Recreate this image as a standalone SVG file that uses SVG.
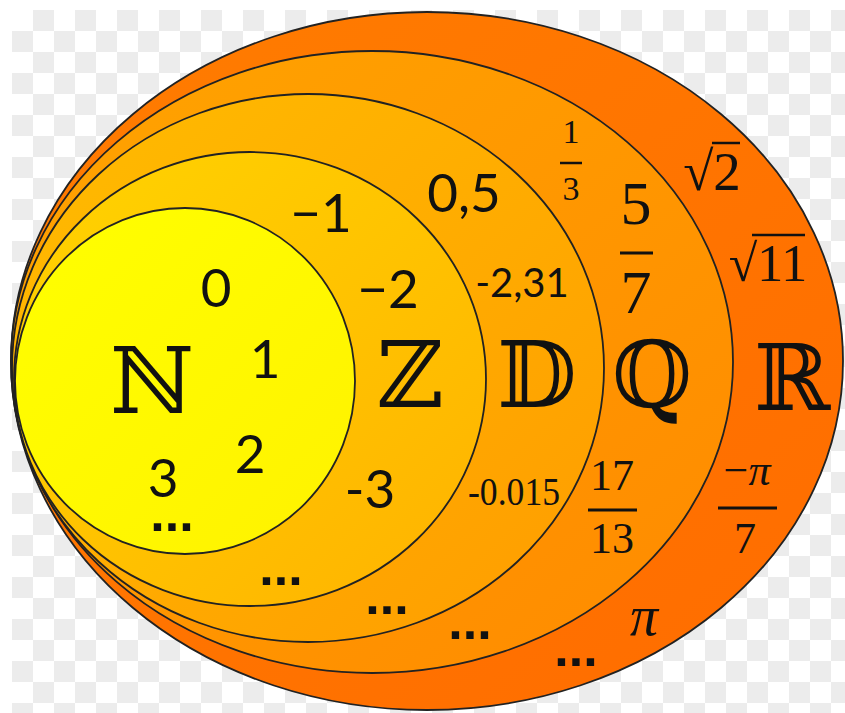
<svg xmlns="http://www.w3.org/2000/svg" width="845" height="713" viewBox="0 0 845 713">
<defs>
<pattern id="chk" x="12" y="10" width="42" height="42" patternUnits="userSpaceOnUse">
<rect x="0" y="0" width="42" height="42" fill="#ffffff"/>
<rect x="21" y="0" width="21" height="21" fill="#ececec"/>
<rect x="0" y="21" width="21" height="21" fill="#ececec"/>
</pattern>
<linearGradient id="gR" x1="0" y1="0" x2="1" y2="1"><stop offset="0" stop-color="#ff7d00"/><stop offset="1" stop-color="#ff6c00"/></linearGradient>
<linearGradient id="gQ" x1="0" y1="0" x2="1" y2="1"><stop offset="0" stop-color="#ffa400"/><stop offset="1" stop-color="#ff8a00"/></linearGradient>
<linearGradient id="gD" x1="0" y1="0" x2="1" y2="1"><stop offset="0" stop-color="#ffbc00"/><stop offset="1" stop-color="#ff9c00"/></linearGradient>
<linearGradient id="gZ" x1="0" y1="0" x2="1" y2="1"><stop offset="0" stop-color="#ffd400"/><stop offset="1" stop-color="#ffb200"/></linearGradient>
<linearGradient id="gN" x1="0" y1="0" x2="1" y2="1"><stop offset="0" stop-color="#ffff00"/><stop offset="1" stop-color="#fff200"/></linearGradient>
</defs>
<style>
.set{stroke:#222;stroke-width:1.8}
.bb{font-family:"DejaVu Serif",serif;font-size:92px;fill:#111;text-anchor:middle}
.num{font-family:Lato,"Liberation Sans",sans-serif;font-size:53px;fill:#111;text-anchor:middle}
.ser{font-family:"Liberation Serif","DejaVu Serif",serif;fill:#111;text-anchor:middle}
.dots{font-family:"Liberation Sans",Arial,sans-serif;font-size:52px;font-weight:bold;fill:#111;text-anchor:middle}
.bar{stroke:#111;stroke-width:3}
</style>
<rect x="0" y="0" width="845" height="713" fill="#ffffff"/>
<rect x="12" y="10" width="833" height="703" fill="url(#chk)"/>
<g id="setR"><ellipse class="set" cx="427" cy="361" rx="416" ry="349" fill="url(#gR)"/></g>
<g id="setQ"><ellipse class="set" cx="372" cy="362" rx="361" ry="311" fill="url(#gQ)"/></g>
<g id="setD"><ellipse class="set" cx="308" cy="368" rx="296" ry="274" fill="url(#gD)"/></g>
<g id="setZ"><ellipse class="set" cx="250" cy="379" rx="236" ry="227" fill="url(#gZ)"/></g>
<g id="setN"><ellipse class="set" cx="185" cy="381" rx="170" ry="173" fill="url(#gN)"/></g>
<g id="labelsN">
<text class="bb" x="152" y="413">ℕ</text>
<text class="num" x="216" y="307">0</text>
<text class="num" x="265" y="378">1</text>
<text class="num" x="250" y="473">2</text>
<text class="num" x="163" y="497">3</text>
<text class="dots" x="172" y="531">...</text>
</g>
<g id="labelsZ">
<text class="bb" x="410" y="407">ℤ</text>
<text class="num" x="321" y="232">−1</text>
<text class="num" x="388" y="308">−2</text>
<text class="num" x="370" y="508">-3</text>
<text class="dots" x="281" y="585">...</text>
</g>
<g id="labelsD">
<text class="bb" x="537" y="407">𝔻</text>
<text class="num" x="464" y="212">0,5</text>
<text class="num" x="522" y="297" style="font-size:40px">-2,31</text>
<text class="ser" x="514" y="505" style="font-size:40px" textLength="92" lengthAdjust="spacingAndGlyphs">-0.015</text>
<text class="dots" x="387" y="614">...</text>
</g>
<g id="labelsQ">
<text class="bb" x="652" y="407">ℚ</text>
<text class="ser" x="571" y="143" style="font-size:34px">1</text>
<line class="bar" x1="560" y1="163" x2="582" y2="163" style="stroke-width:2.5"/>
<text class="ser" x="571" y="200" style="font-size:34px">3</text>
<text class="ser" x="636" y="224" style="font-size:62px">5</text>
<line class="bar" x1="620" y1="253" x2="653" y2="253"/>
<text class="ser" x="636" y="313" style="font-size:62px">7</text>
<text class="ser" x="612" y="490" style="font-size:44px">17</text>
<line class="bar" x1="588" y1="510" x2="637" y2="510"/>
<text class="ser" x="612" y="553" style="font-size:44px">13</text>
<text class="dots" x="470" y="639">...</text>
</g>
<g id="labelsR">
<text class="bb" x="792" y="410">ℝ</text>
<text class="ser" x="712" y="190" style="font-size:55px">√2</text>
<line class="bar" x1="712" y1="143" x2="740" y2="143" style="stroke-width:2.5"/>
<text class="ser" x="768" y="281" style="font-size:52px">√11</text>
<line class="bar" x1="752" y1="235" x2="805" y2="235" style="stroke-width:2.5"/>
<text class="ser" x="747" y="485" style="font-size:44px">−<tspan font-style="italic">π</tspan></text>
<line class="bar" x1="718" y1="508" x2="777" y2="508"/>
<text class="ser" x="745" y="553" style="font-size:44px">7</text>
<text class="ser" x="644" y="635" style="font-size:56px;font-style:italic">π</text>
<text class="dots" x="576" y="666">...</text>
</g>
</svg>
